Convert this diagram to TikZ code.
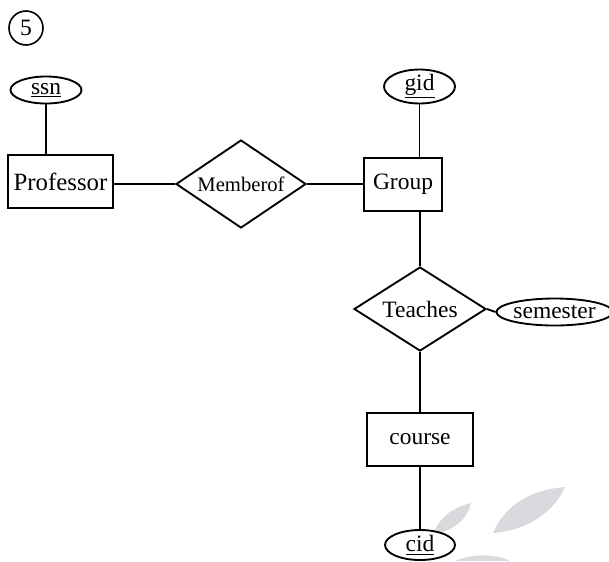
\documentclass[tikz,border=0pt]{standalone}
\usepackage{fontspec}
\setmainfont{Liberation Serif}
\usetikzlibrary{shapes.geometric}
\definecolor{leafgray}{RGB}{218,218,222}
\tikzset{
  ent/.style={draw, line width=1.4pt, fill=white, rectangle, inner sep=0pt},
  rel/.style={draw, line width=1.4pt, fill=white, diamond, inner sep=0pt, aspect=1.5},
  attr/.style={draw, line width=1.4pt, fill=white, ellipse, inner sep=0pt},
  conn/.style={line width=1.4pt},
  bigtxt/.style={font=\fontsize{17.6}{20}\selectfont},
  leaf/.style={fill=leafgray, draw=none}
}
\begin{document}
\begin{tikzpicture}[x=0.75pt,y=-0.75pt]
\useasboundingbox (0,0) rectangle (609,561);
% watermark leaves
\fill[leaf] (433,535) .. controls (440,515) and (455,507) .. (471,503) .. controls (468,518) and (455,530) .. (433,535) -- cycle;
\fill[leaf] (493,533) .. controls (505,505) and (530,490) .. (565,487) .. controls (555,510) and (530,530) .. (493,533) -- cycle;
\fill[leaf] (455,561) .. controls (470,554) and (495,553) .. (510,561) -- cycle;
% number
\node[draw, circle, line width=1.2pt, minimum size=34*0.75pt, inner sep=0pt, bigtxt] (num) at (26,28) {5};
% entities
\node[ent, minimum width=105*0.75pt, minimum height=53*0.75pt, font=\fontsize{18.6}{21}\selectfont] (prof) at (60.5,181.5) {Professor};
\node[ent, minimum width=78*0.75pt, minimum height=53*0.75pt, bigtxt] (group) at (403,184.5) {Group};
\node[ent, minimum width=106*0.75pt, minimum height=53*0.75pt, bigtxt] (course) at (420,439.5) {course};
% relationships
\node[rel, minimum width=130*0.75pt, minimum height=88*0.75pt, font=\fontsize{15.5}{18}\selectfont] (member) at (241,184) {Memberof};
\node[rel, minimum width=132*0.75pt, minimum height=84*0.75pt, bigtxt] (teaches) at (420,309) {Teaches};
% attributes
\node[attr, minimum width=71*0.75pt, minimum height=27*0.75pt, bigtxt] (ssn) at (46,90) {\underline{ssn}};
\node[attr, minimum width=71*0.75pt, minimum height=29*0.75pt, bigtxt] (gid) at (419.5,86.5) {\underline{gid}};
\node[attr, minimum width=107*0.75pt, minimum height=27*0.75pt, bigtxt] (sem) at (554.5,312) {semester};
\node[attr, minimum width=70*0.75pt, minimum height=30*0.75pt, bigtxt] (cid) at (420,545) {\underline{cid}};
% connectors
\draw[conn] (ssn.south) -- (ssn.south |- prof.north);
\draw[conn] (member.west) -- (member.west -| prof.east);
\draw[conn] (member.east) -- (member.east -| group.west);
\draw[conn] (gid.south) -- (gid.south |- group.north);
\draw[conn] (teaches.north) -- (teaches.north |- group.south);
\draw[conn] (teaches.east) -- (sem.west);
\draw[conn] (teaches.south) -- (course.north);
\draw[conn] (course.south) -- (cid.north);
\end{tikzpicture}
\end{document}
